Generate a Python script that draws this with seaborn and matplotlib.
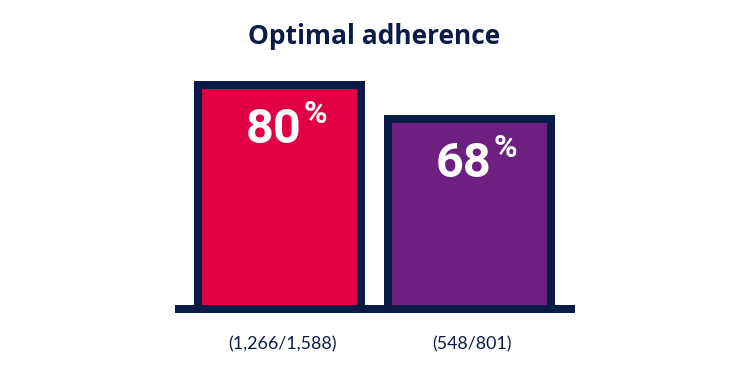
import matplotlib
matplotlib.use("Agg")
import matplotlib.pyplot as plt
import seaborn as sns

# Data
categories = ["Group A", "Group B"]
values = [80, 68]
value_labels = ["80", "68"]
count_labels = ["(1,266/1,588)", "(548/801)"]
title = "Optimal adherence"

NAVY = "#0B1B48"
bar_colors = ["#E20044", "#6E2080"]

sns.set_theme(style="white")
plt.rcParams["font.family"] = ["Open Sans", "DejaVu Sans"]

W, H = 750, 375
fig = plt.figure(figsize=(W / 100, H / 100), dpi=100)
px = 0.72  # points per pixel
ax_left, ax_right = 175, 575
ax_bottom_px = 309  # y of zero line (from top)
ax_top_px = 29
ax = fig.add_axes([ax_left / W, (H - ax_bottom_px) / H,
                   (ax_right - ax_left) / W, (ax_bottom_px - ax_top_px) / H])

sns.barplot(x=categories, y=values, hue=categories, palette=bar_colors,
            edgecolor=NAVY, linewidth=8 * px, width=0.86, legend=False,
            saturation=1, ax=ax)
for p in ax.patches:
    p.set_joinstyle("miter")
    p.set_clip_on(False)

ax.set_xlim(-0.554, 1.557)
ax.set_ylim(0, 100)
ax.axis("off")
ax.axhline(0, color=NAVY, lw=8 * px, clip_on=False, solid_capstyle="butt")

for i, (v, lab, cnt) in enumerate(zip(values, value_labels, count_labels)):
    ax.annotate(lab, xy=(i, v), xytext=(22 * px, -58 * px), textcoords="offset points",
                ha="right", va="baseline", color="white", fontsize=35,
                fontweight="bold", family=["Roboto", "DejaVu Sans"])
    ax.annotate("%", xy=(i, v), xytext=(24 * px, -38 * px), textcoords="offset points",
                ha="left", va="baseline", color="white", fontsize=23,
                fontweight="bold", family=["Roboto", "DejaVu Sans"])
    ax.annotate(cnt, xy=(i, 0), xytext=(3 * px, -35 * px), textcoords="offset points",
                ha="center", va="center", color=NAVY, fontsize=12.8,
                family=["Lato", "DejaVu Sans"], annotation_clip=False)

fig.text(374 / W, (H - 44) / H, title, ha="center", va="baseline",
         color=NAVY, fontsize=19, fontweight="bold")

fig.savefig("out.png", dpi=100, facecolor="white")
